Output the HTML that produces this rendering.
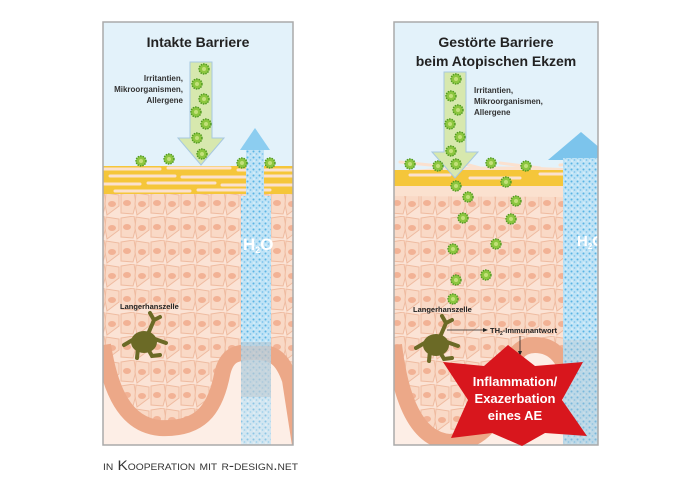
<!DOCTYPE html><html><head><meta charset="utf-8"><style>body{margin:0;background:#fff}svg{display:block}</style></head><body>
<svg width="690" height="485" viewBox="0 0 690 485" xmlns="http://www.w3.org/2000/svg" font-family="Liberation Sans, sans-serif">
<defs>
<pattern id="cells" width="30" height="24" patternUnits="userSpaceOnUse">
<rect width="30" height="24" fill="#fbe3d5"/>
<polygon points="1,2 14,0 16,11 13,22 1,21" fill="#f9d9c6" stroke="#efbba0" stroke-width="1"/>
<polygon points="16,1 29,3 29,14 17,23 15,12" fill="#f9d9c6" stroke="#efbba0" stroke-width="1"/>
<ellipse cx="7" cy="11" rx="4" ry="3" fill="#f2b295"/>
<ellipse cx="22" cy="12" rx="4" ry="3" fill="#f2b295"/>
</pattern>
<pattern id="water" width="6" height="6" patternUnits="userSpaceOnUse">
<rect width="6" height="6" fill="#bfe3f6"/>
<circle cx="1.5" cy="1.5" r="1" fill="#5bb4e4"/><circle cx="4.5" cy="4" r="0.9" fill="#7cc4ec"/><circle cx="2" cy="5" r="0.6" fill="#fff"/>
</pattern>
<clipPath id="cl"><rect x="103" y="22" width="190" height="423"/></clipPath>
<clipPath id="cr"><rect x="394" y="22" width="204" height="423"/></clipPath>
<symbol id="germ" viewBox="-6 -6 12 12"><circle r="5" fill="#8cc63f" stroke="#4e9a1e" stroke-width="1.4" stroke-dasharray="1.5 1"/><circle r="2" fill="#c3e07a"/></symbol>
</defs>

<!-- LEFT PANEL -->
<g clip-path="url(#cl)">
<rect x="103" y="22" width="190" height="423" fill="#e3f2fa"/>
<rect x="103" y="190" width="190" height="260" fill="url(#cells)"/>
<rect x="103" y="166" width="190" height="28" fill="#f5c63a"/>
<g stroke="#fbe1cf" stroke-width="3" stroke-linecap="round" fill="none">
<path d="M103 169 H160 M168 168 H230 M238 170 H293"/>
<path d="M110 176 H175 M182 177 H250 M256 176 H293"/>
<path d="M103 184 H140 M148 183 H215 M222 185 H293"/>
<path d="M115 191 H190 M198 190 H270"/>
</g>
<path d="M103 345 C110 390 125 425 160 428 C200 430 215 410 222 375 C226 355 235 352 255 352 C275 352 283 360 290 380 L300 445 L103 445 Z" fill="#fdeee6"/>
<path d="M103 345 C110 390 125 425 160 428 C200 430 215 410 222 375 C226 355 235 352 255 352 C275 352 283 360 290 380 L300 445" fill="none" stroke="#eca888" stroke-width="16"/>
<rect x="246" y="148" width="18" height="50" fill="url(#water)"/>
<polygon points="255,128 240,150 270,150" fill="#8ccdf0"/>
<rect x="241" y="196" width="30" height="150" fill="url(#water)"/>
<rect x="241" y="342" width="30" height="103" fill="url(#water)" opacity="0.7"/>
<rect x="241" y="342" width="30" height="55" fill="#b7c4cc" opacity="0.5"/>
<text x="243" y="250" font-size="17" font-weight="bold" fill="#fff">H<tspan font-size="9" dy="3">2</tspan><tspan dy="-3">O</tspan></text>
<polygon points="190,62 212,62 212,138 224,138 201,165 178,138 190,138" fill="#d7e8ae" stroke="#a7c8e0" stroke-width="1"/>
<use href="#germ" x="198" y="63" width="12" height="12"/><use href="#germ" x="191" y="78" width="12" height="12"/>
<use href="#germ" x="198" y="93" width="12" height="12"/><use href="#germ" x="190" y="106" width="12" height="12"/>
<use href="#germ" x="200" y="118" width="12" height="12"/><use href="#germ" x="191" y="132" width="12" height="12"/>
<use href="#germ" x="196" y="148" width="12" height="12"/>
<use href="#germ" x="135" y="155" width="12" height="12"/><use href="#germ" x="163" y="153" width="12" height="12"/>
<use href="#germ" x="236" y="157" width="12" height="12"/><use href="#germ" x="264" y="157" width="12" height="12"/>
<g fill="#6b6a26" stroke="#6b6a26" stroke-width="4" stroke-linecap="round">
<ellipse cx="144" cy="342" rx="13" ry="11" stroke="none"/>
<path d="M148 334 L154 320 L150 313 M154 320 L160 317 M152 338 L166 343 M148 349 L152 356 L160 355 M138 348 L137 358 M136 338 L124 345" fill="none"/>
</g>
</g>
<rect x="103" y="22" width="190" height="423" fill="none" stroke="#aaa" stroke-width="1.5"/>
<text x="198" y="47" font-size="14" font-weight="bold" text-anchor="middle" fill="#222">Intakte Barriere</text>
<g font-size="8" font-weight="bold" fill="#333" text-anchor="end">
<text x="183" y="81">Irritantien,</text><text x="183" y="92">Mikroorganismen,</text><text x="183" y="103">Allergene</text>
</g>
<text x="120" y="309" font-size="7.5" font-weight="bold" fill="#222">Langerhanszelle</text>

<!-- RIGHT PANEL -->
<g clip-path="url(#cr)">
<rect x="394" y="22" width="204" height="423" fill="#e3f2fa"/>
<rect x="394" y="190" width="204" height="260" fill="url(#cells)"/>
<path d="M394 172 C450 165 520 165 598 170 V198 C530 196 470 197 394 196 Z" fill="#fbe1cf"/>
<rect x="394" y="170" width="204" height="16" fill="#f5c63a"/>
<g stroke="#fbe1cf" stroke-width="3" stroke-linecap="round" fill="none">
<path d="M400 162 L440 166 M450 160 L480 168 M500 163 L540 168 M560 165 L598 163"/>
<path d="M410 175 H450 M470 178 H520 M540 174 H590"/>
</g>
<path d="M394 345 C400 395 415 440 450 442 C480 444 500 420 505 385 C510 355 520 345 535 345 C555 345 565 360 570 380 L600 445 L394 445 Z" fill="#fdeee6"/>
<path d="M394 345 C400 395 415 440 450 442 C480 444 500 420 505 385 C510 355 520 345 535 345 C555 345 565 360 570 380 L600 445" fill="none" stroke="#eca888" stroke-width="16"/>
<polygon points="581,132 548,160 614,160" fill="#7cc4ec"/>
<rect x="563" y="158" width="36" height="287" fill="url(#water)"/>
<rect x="563" y="340" width="36" height="105" fill="#b7c4cc" opacity="0.35"/>
<text x="577" y="246" font-size="15" font-weight="bold" fill="#fff">H<tspan font-size="8" dy="3">2</tspan><tspan dy="-3">O</tspan></text>
<polygon points="444,72 466,72 466,152 478,152 455,178 432,152 444,152" fill="#d7e8ae" stroke="#a7c8e0" stroke-width="1"/>
<use href="#germ" x="450" y="73" width="12" height="12"/><use href="#germ" x="445" y="90" width="12" height="12"/>
<use href="#germ" x="452" y="104" width="12" height="12"/><use href="#germ" x="444" y="118" width="12" height="12"/>
<use href="#germ" x="454" y="131" width="12" height="12"/><use href="#germ" x="445" y="145" width="12" height="12"/>
<use href="#germ" x="450" y="158" width="12" height="12"/>
<use href="#germ" x="404" y="158" width="12" height="12"/><use href="#germ" x="432" y="160" width="12" height="12"/>
<use href="#germ" x="485" y="157" width="12" height="12"/><use href="#germ" x="520" y="160" width="12" height="12"/>
<use href="#germ" x="450" y="180" width="12" height="12"/><use href="#germ" x="500" y="176" width="12" height="12"/>
<use href="#germ" x="462" y="191" width="12" height="12"/><use href="#germ" x="510" y="195" width="12" height="12"/>
<use href="#germ" x="457" y="212" width="12" height="12"/><use href="#germ" x="505" y="213" width="12" height="12"/>
<use href="#germ" x="490" y="238" width="12" height="12"/><use href="#germ" x="447" y="243" width="12" height="12"/>
<use href="#germ" x="480" y="269" width="12" height="12"/><use href="#germ" x="450" y="274" width="12" height="12"/>
<use href="#germ" x="447" y="293" width="12" height="12"/>
<g fill="#6b6a26" stroke="#6b6a26" stroke-width="4" stroke-linecap="round">
<ellipse cx="436" cy="345" rx="13" ry="11" stroke="none"/>
<path d="M440 337 L446 323 L442 316 M446 323 L452 320 M444 341 L458 346 M440 352 L444 359 L452 358 M430 351 L429 361 M428 341 L416 348" fill="none"/>
</g>
</g>
<rect x="394" y="22" width="204" height="423" fill="none" stroke="#aaa" stroke-width="1.5"/>
<text x="496" y="47" font-size="14" font-weight="bold" text-anchor="middle" fill="#222">Gestörte Barriere</text>
<text x="496" y="66" font-size="14" font-weight="bold" text-anchor="middle" fill="#222">beim Atopischen Ekzem</text>
<g font-size="8" font-weight="bold" fill="#333">
<text x="474" y="93">Irritantien,</text><text x="474" y="104">Mikroorganismen,</text><text x="474" y="115">Allergene</text>
</g>
<text x="413" y="312" font-size="7.5" font-weight="bold" fill="#222">Langerhanszelle</text>
<line x1="447" y1="330" x2="485" y2="330" stroke="#222" stroke-width="0.8"/><polygon points="488,330 483,328 483,332" fill="#222"/>
<text x="490" y="333" font-size="7.5" font-weight="bold" fill="#222">TH<tspan font-size="5" dy="2">2</tspan><tspan dy="-2">-Immunantwort</tspan></text>
<line x1="520" y1="336" x2="520" y2="352" stroke="#222" stroke-width="0.8"/><polygon points="520,356 518,351 522,351" fill="#222"/>
<polygon points="508,345 535,366 583,362 562,400 587,436 545,433 522,446 492,433 451,438 468,400 443,362 484,366" fill="#d8161d"/>
<g font-size="13" font-weight="bold" fill="#fff" text-anchor="middle">
<text x="515" y="386">Inflammation/</text><text x="515" y="403">Exazerbation</text><text x="515" y="420">eines AE</text>
</g>

<text x="103" y="470" font-size="13.5" fill="#333" textLength="195" lengthAdjust="spacingAndGlyphs" style="font-variant:small-caps">in Kooperation mit r-design.net</text>
</svg>
</body></html>
